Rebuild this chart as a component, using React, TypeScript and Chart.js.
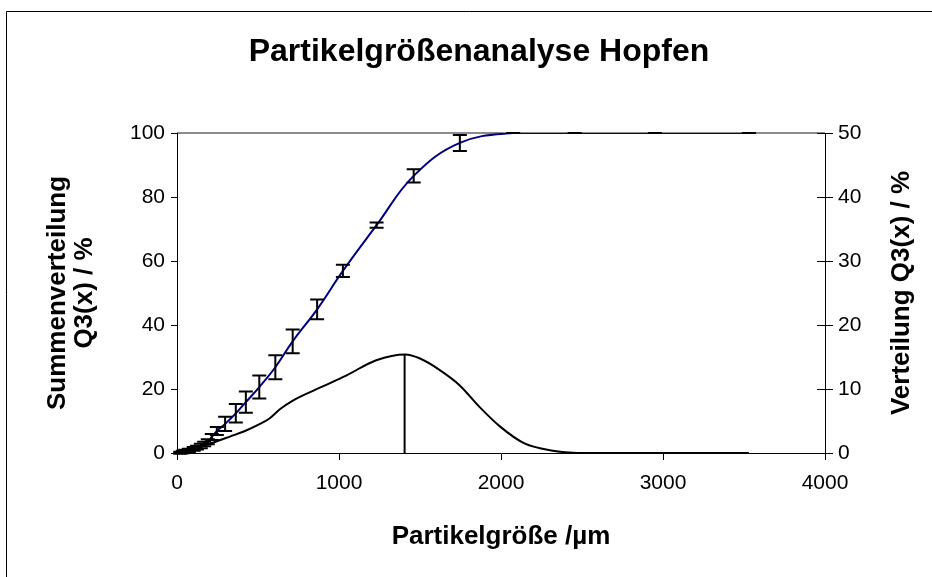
import React, { useEffect, useRef } from "react";
import { Chart, registerables } from "chart.js";

Chart.register(...registerables);

// Particle size classes (µm) with cumulative distribution Q3 (%) and its spread
const sizeClasses = [20, 36, 51, 73, 103, 123, 147, 168, 190, 215, 246, 297, 363, 425, 508, 607, 714, 865, 1024, 1232, 1461, 1746, 2075, 2455, 2950, 3530];
const cumulative = [0.1, 0.3, 0.5, 0.8, 1.3, 1.7, 2.2, 2.8, 3.5, 5.0, 6.9, 9.1, 12.4, 15.9, 20.6, 26.8, 34.9, 44.9, 56.9, 71.2, 86.6, 96.9, 100, 100, 100, 100];
const cumulativeError = [0.3, 0.4, 0.5, 0.5, 0.6, 0.6, 0.7, 0.7, 0.8, 0.9, 1.25, 2.2, 2.9, 3.3, 3.6, 3.75, 3.7, 3.1, 1.9, 0.8, 2.1, 2.5, 0, 0, 0, 0];

// Density distribution q3 (%) over particle size (µm)
const densitySizes = [0, 60, 120, 220, 330, 416, 500, 571, 633, 715, 900, 1044, 1230, 1409, 1497, 1620, 1744, 1867, 1991, 2145, 2320, 2442, 2600, 3000, 3530];
const densityValues = [0, 0.3, 0.8, 1.6, 2.6, 3.4, 4.4, 5.4, 6.8, 8.2, 10.4, 12.1, 14.5, 15.4, 14.8, 13.0, 10.6, 7.2, 4.2, 1.5, 0.36, 0.05, 0, 0, 0];

// Marker at the distribution maximum
const modeSize = 1405;
const modeValue = 15.4;

// Axis tick setup
const xTicks = { min: 0, max: 4000, step: 1000 };
const leftTicks = { min: 0, max: 100, step: 20 };
const rightTicks = { min: 0, max: 50, step: 10 };

const FONT = '"Liberation Sans", Arial, Helvetica, sans-serif';

const errorBarPlugin = {
  id: "errorBars",
  afterDatasetsDraw(chart: any) {
    const { ctx } = chart;
    const xs = chart.scales.x;
    const ys = chart.scales.y;
    const cap = 7;
    ctx.save();
    ctx.strokeStyle = "#000";
    ctx.lineWidth = 2;
    sizeClasses.forEach((s, i) => {
      const px = xs.getPixelForValue(s);
      const top = ys.getPixelForValue(cumulative[i] + cumulativeError[i]);
      const bot = ys.getPixelForValue(cumulative[i] - cumulativeError[i]);
      ctx.beginPath();
      ctx.moveTo(px, top);
      ctx.lineTo(px, bot);
      ctx.moveTo(px - cap, top);
      ctx.lineTo(px + cap, top);
      ctx.moveTo(px - cap, bot);
      ctx.lineTo(px + cap, bot);
      ctx.stroke();
    });
    ctx.restore();
  },
};

const framePlugin = {
  id: "frame",
  beforeDraw(chart: any) {
    const { ctx, width, height, chartArea } = chart;
    ctx.save();
    ctx.fillStyle = "#fff";
    ctx.fillRect(0, 0, width, height);
    ctx.strokeStyle = "#000";
    ctx.lineWidth = 1;
    ctx.beginPath();
    ctx.moveTo(6.5, height);
    ctx.lineTo(6.5, 11.5);
    ctx.lineTo(width, 11.5);
    ctx.stroke();
    ctx.restore();
    // grey upper edge of the plot area
    ctx.save();
    ctx.strokeStyle = "#8c8c8c";
    ctx.lineWidth = 2;
    ctx.beginPath();
    ctx.moveTo(chartArea.left, chartArea.top);
    ctx.lineTo(chartArea.right, chartArea.top);
    ctx.stroke();
    ctx.restore();
  },
  afterDraw(chart: any) {
    const { ctx, chartArea } = chart;
    const y2 = chart.scales.y2;
    ctx.save();
    // inner halves of the right-hand ticks
    ctx.strokeStyle = "#000";
    ctx.lineWidth = 1;
    ctx.beginPath();
    y2.ticks.forEach((t: any) => {
      const py = Math.round(y2.getPixelForValue(t.value)) + 0.5;
      ctx.moveTo(chartArea.right - 8, py);
      ctx.lineTo(chartArea.right, py);
    });
    ctx.stroke();
    // right axis title, reading bottom to top
    ctx.translate(902, (chartArea.top + chartArea.bottom) / 2);
    ctx.rotate(-Math.PI / 2);
    ctx.fillStyle = "#000";
    ctx.font = `bold 26px ${FONT}`;
    ctx.textAlign = "center";
    ctx.textBaseline = "middle";
    ctx.fillText("Verteilung Q3(x) / %", 0, 0);
    ctx.restore();
  },
};

export default function App() {
  const canvasRef = useRef<HTMLCanvasElement | null>(null);

  useEffect(() => {
    if (!canvasRef.current) return;
    const tickFont = { family: FONT, size: 21 };
    const chart = new Chart(canvasRef.current, {
      type: "line",
      data: {
        datasets: [
          {
            label: "Summenverteilung",
            data: sizeClasses.map((s, i) => ({ x: s, y: cumulative[i] })),
            yAxisID: "y",
            borderColor: "#000080",
            borderWidth: 2,
            pointRadius: 0,
            tension: 0.4,
            fill: false,
          },
          {
            label: "Verteilung",
            data: densitySizes.map((s, i) => ({ x: s, y: densityValues[i] })),
            yAxisID: "y2",
            borderColor: "#000",
            borderWidth: 2,
            pointRadius: 0,
            cubicInterpolationMode: "monotone",
            fill: false,
          },
          {
            label: "Modalwert",
            data: [
              { x: modeSize, y: 0 },
              { x: modeSize, y: modeValue },
            ],
            yAxisID: "y2",
            borderColor: "#000",
            borderWidth: 2,
            pointRadius: 0,
            fill: false,
          },
        ],
      },
      options: {
        animation: false,
        responsive: false,
        maintainAspectRatio: false,
        layout: { padding: { left: 26, right: 0, top: 0, bottom: 0 } },
        plugins: {
          legend: { display: false },
          tooltip: { enabled: false },
          title: {
            display: true,
            text: "Partikelgrößenanalyse Hopfen",
            color: "#000",
            font: { family: FONT, size: 32, weight: "bold" },
            padding: { top: 32.8, bottom: 61.8 },
          },
        },
        scales: {
          x: {
            type: "linear",
            min: xTicks.min,
            max: xTicks.max,
            ticks: {
              stepSize: xTicks.step,
              color: "#000",
              font: tickFont,
              padding: 11,
              maxRotation: 0,
              callback: (v: any) => String(v),
            },
            grid: { drawOnChartArea: false, tickLength: 7, color: "#000" },
            border: { color: "#000", width: 1 },
            title: {
              display: true,
              text: "Partikelgröße /µm",
              color: "#000",
              font: { family: FONT, size: 26, weight: "bold" },
              padding: { top: 0, bottom: 24.4 },
            },
            afterFit: (s: any) => {
              s.height = 124;
            },
          },
          y: {
            position: "left",
            min: leftTicks.min,
            max: leftTicks.max,
            ticks: { stepSize: leftTicks.step, color: "#000", font: tickFont, padding: 6 },
            grid: { drawOnChartArea: false, tickLength: 6, color: "#000" },
            border: { color: "#000", width: 1 },
            title: {
              display: true,
              text: ["Summenverteilung", "Q3(x) / %"],
              color: "#000",
              font: { family: FONT, size: 26, weight: "bold", lineHeight: 1.04 },
              padding: { top: 18.5, bottom: 0 },
            },
            afterFit: (s: any) => {
              s.width = 151;
            },
          },
          y2: {
            position: "right",
            min: rightTicks.min,
            max: rightTicks.max,
            ticks: { stepSize: rightTicks.step, color: "#000", font: tickFont, padding: 5 },
            grid: { drawOnChartArea: false, tickLength: 8, color: "#000" },
            border: { color: "#000", width: 1 },
            afterFit: (s: any) => {
              s.width = 107;
            },
          },
        },
      },
      plugins: [framePlugin, errorBarPlugin],
    });
    return () => chart.destroy();
  }, []);

  return (
    <div style={{ position: "fixed", left: 0, top: 0, width: 932, height: 577, background: "#fff" }}>
      <canvas ref={canvasRef} width={932} height={577} style={{ width: 932, height: 577, display: "block" }} />
    </div>
  );
}
